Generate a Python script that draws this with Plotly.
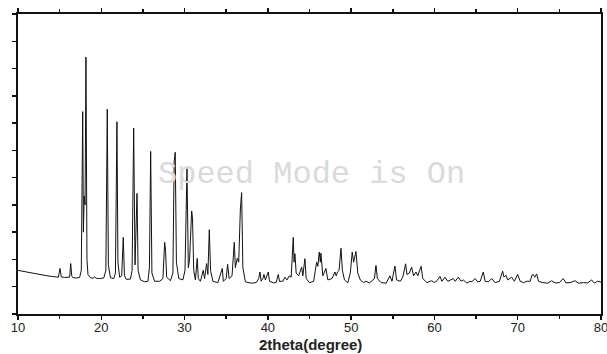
import plotly.graph_objects as go

# 2theta (degree) positions of the traced pattern
two_theta = [
    10.0, 10.5, 11.0, 11.5, 12.0, 12.5, 13.0, 13.5, 14.0, 14.5, 14.85, 15.04, 15.2, 15.6, 16.0, 16.2,
    16.33, 16.45, 16.6, 17.0, 17.4, 17.6, 17.77, 17.85, 17.95, 18.05, 18.16, 18.28, 18.4, 18.7, 19.0,
    19.2, 19.4, 19.8, 20.3, 20.55, 20.72, 20.85, 21.1, 21.5, 21.7, 21.88, 22.0, 22.2, 22.45, 22.64,
    22.78, 23.0, 23.5, 23.7, 23.89, 24.05, 24.29, 24.42, 24.7, 25.2, 25.6, 25.78, 25.93, 26.08, 26.4,
    27.0, 27.4, 27.61, 27.72, 27.85, 28.3, 28.6, 28.75, 28.88, 29.02, 29.3, 29.8, 30.05, 30.29, 30.45,
    30.6, 30.72, 30.85, 30.95, 31.1, 31.3, 31.52, 31.65, 31.9, 32.24, 32.4, 32.65, 32.8, 32.97, 33.12,
    33.4, 34.0, 34.53, 34.65, 35.0, 35.17, 35.35, 35.7, 35.97, 36.1, 36.33, 36.5, 36.7, 36.85, 37.0,
    37.3, 38.0, 38.6, 38.9, 39.05, 39.2, 39.4, 39.53, 39.7, 40.05, 40.2, 40.7, 41.0, 41.25, 41.4, 41.8,
    42.05, 42.3, 42.57, 42.8, 43.05, 43.15, 43.25, 43.4, 43.7, 44.06, 44.2, 44.45, 44.6, 45.0, 45.5,
    45.7, 45.86, 46.0, 46.17, 46.3, 46.37, 46.6, 46.97, 47.2, 47.7, 48.06, 48.2, 48.38, 48.55, 48.78,
    48.95, 49.2, 49.6, 49.9, 50.13, 50.3, 50.45, 50.58, 50.8, 51.1, 51.5, 51.78, 52.2, 52.8, 52.98,
    53.15, 53.6, 54.2, 54.66, 54.9, 55.26, 55.45, 55.9, 56.2, 56.54, 56.7, 57.0, 57.26, 57.5, 57.78,
    58.0, 58.4, 58.6, 59.1, 59.66, 60.0, 60.4, 60.66, 60.9, 61.26, 61.6, 62.0, 62.26, 62.5, 62.86,
    63.2, 63.46, 63.9, 64.26, 64.5, 64.86, 65.2, 65.5, 65.86, 66.1, 66.5, 66.87, 67.3, 67.8, 68.19,
    68.35, 68.58, 68.8, 69.27, 69.6, 69.99, 70.3, 70.7, 71.07, 71.5, 71.7, 71.86, 72.05, 72.27, 72.5,
    73.0, 73.6, 74.07, 74.5, 75.0, 75.46, 75.8, 76.3, 76.87, 77.3, 77.9, 78.4, 78.87, 79.2, 79.6, 80.0,
]

# intensity (arbitrary units, y-axis tick = 1 unit)
intensity = [
    1.60, 1.57, 1.53, 1.50, 1.47, 1.45, 1.42, 1.40, 1.38, 1.36, 1.35, 1.67, 1.36, 1.34, 1.33, 1.35,
    1.85, 1.40, 1.33, 1.32, 1.34, 1.60, 7.42, 3.00, 4.33, 4.00, 9.42, 2.00, 1.45, 1.33, 1.31,
    1.36, 1.31, 1.30, 1.32, 1.60, 7.51, 1.80, 1.33, 1.30, 1.50, 7.05, 1.90, 1.35, 1.40, 2.81,
    1.40, 1.27, 1.28, 1.60, 6.82, 1.80, 4.42, 1.60, 1.25, 1.18, 1.20, 1.70, 5.96, 1.50, 1.20,
    1.20, 1.30, 2.63, 2.30, 1.35, 1.22, 1.50, 5.60, 5.93, 1.90, 1.30, 1.25, 1.60, 5.33, 1.70,
    2.00, 2.87, 3.78, 3.54, 1.60, 1.25, 2.04, 1.30, 1.20, 1.60, 1.30, 1.85, 1.45, 3.09, 1.60,
    1.20, 1.15, 1.67, 1.20, 1.30, 1.82, 1.30, 1.40, 2.63, 1.70, 2.04, 1.90, 3.85, 4.45, 1.70,
    1.18, 1.13, 1.15, 1.30, 1.54, 1.20, 1.30, 1.45, 1.25, 1.54, 1.20, 1.14, 1.16, 1.45, 1.20, 1.20,
    1.35, 1.25, 1.40, 1.35, 2.81, 1.90, 2.21, 1.50, 1.40, 1.72, 1.40, 2.03, 1.30, 1.15, 1.20,
    1.60, 1.90, 1.75, 2.27, 1.90, 2.23, 1.40, 1.67, 1.25, 1.30, 1.54, 1.40, 1.55, 1.60, 2.41,
    1.60, 1.25, 1.14, 1.50, 2.27, 1.90, 2.10, 2.29, 1.50, 1.25, 1.15, 1.20, 1.14, 1.30, 1.78,
    1.30, 1.15, 1.13, 1.40, 1.20, 1.76, 1.25, 1.20, 1.35, 1.84, 1.45, 1.50, 1.72, 1.40, 1.54,
    1.40, 1.75, 1.30, 1.15, 1.22, 1.15, 1.25, 1.38, 1.20, 1.35, 1.20, 1.25, 1.30, 1.20, 1.35,
    1.20, 1.25, 1.13, 1.20, 1.18, 1.30, 1.18, 1.20, 1.54, 1.20, 1.18, 1.30, 1.15, 1.20, 1.57,
    1.35, 1.42, 1.25, 1.35, 1.20, 1.45, 1.20, 1.15, 1.20, 1.20, 1.42, 1.45, 1.35, 1.47, 1.20,
    1.15, 1.13, 1.22, 1.14, 1.15, 1.30, 1.14, 1.15, 1.22, 1.13, 1.15, 1.14, 1.25, 1.13, 1.20, 1.17,
]

x_tick_vals = [10, 20, 30, 40, 50, 60, 70, 80]
x_tick_text = ["10", "20", "30", "40", "50", "60", "70", "80"]
x_title = "2theta(degree)"
watermark = "Speed Mode is On"

fig = go.Figure()
fig.add_trace(go.Scatter(
    x=two_theta, y=intensity, mode="lines",
    line=dict(color="#111111", width=1),
    showlegend=False, hoverinfo="skip",
))

fig.update_layout(
    width=607, height=354,
    margin=dict(l=18, r=6, t=14, b=40, autoexpand=False),
    paper_bgcolor="white", plot_bgcolor="white",
    hovermode=False, dragmode=False,
    font=dict(family="Liberation Sans, Arial, sans-serif", color="#222222"),
    xaxis=dict(
        range=[10, 80], tickvals=x_tick_vals, ticktext=x_tick_text,
        ticks="outside", ticklen=4, tickwidth=1.5, tickcolor="#111111",
        minor=dict(dtick=5, ticks="outside", ticklen=3, tickwidth=1.5, tickcolor="#111111"),
        showline=True, linecolor="#111111", linewidth=2, mirror="ticks",
        showgrid=False, zeroline=False, automargin=False,
        tickfont=dict(size=13, color="#222222"),
        ticklabelstandoff=-4, ticklabeloverflow="allow",
    ),
    yaxis=dict(
        range=[0, 11], dtick=1, tick0=0,
        ticks="outside", ticklen=4, tickwidth=1.5, tickcolor="#111111",
        showticklabels=False, automargin=False,
        showline=True, linecolor="#111111", linewidth=2, mirror=True,
        showgrid=False, zeroline=False,
    ),
    annotations=[
        dict(
            text=watermark, xref="paper", yref="paper", x=0.504, y=0.465,
            xanchor="center", yanchor="middle", showarrow=False,
            font=dict(family="Liberation Mono, Courier New, monospace", size=32, color="#dadada"),
        ),
        dict(
            text=x_title, xref="paper", yref="paper", x=0.502, y=-0.101,
            xanchor="center", yanchor="middle", showarrow=False,
            font=dict(size=15, color="#222222", weight="bold"),
        ),
    ],
)

fig.write_html(
    "out.html",
    config={"staticPlot": True, "displayModeBar": False},
    post_script="document.body.style.margin='0';document.body.style.overflow='hidden';",
)
